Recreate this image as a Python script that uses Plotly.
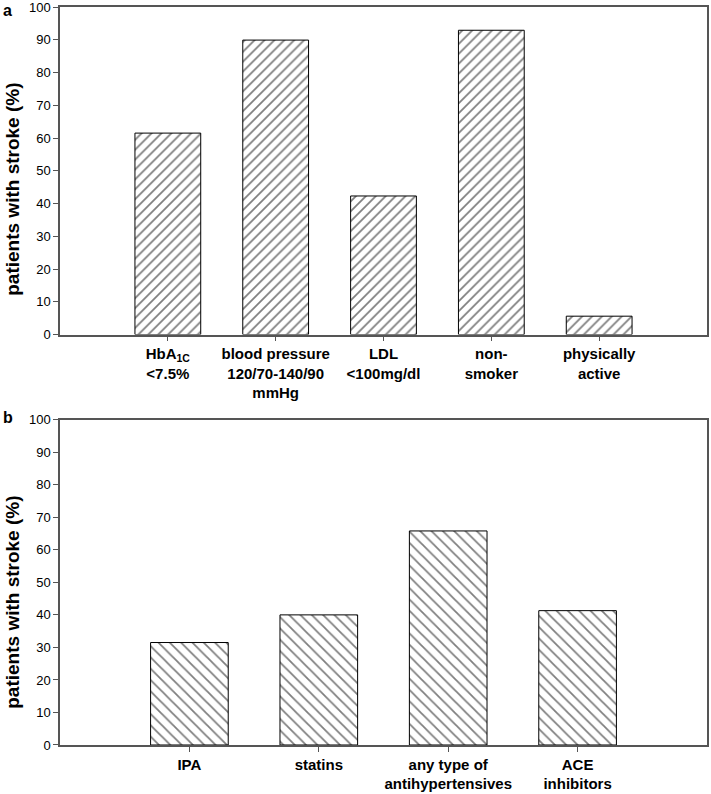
"""Two-panel hatched bar chart: patients with stroke reaching targets."""

import plotly.graph_objects as go
from plotly.subplots import make_subplots

# panel a: treatment targets reached
targets = [
    "<b>HbA<sub>1C</sub><br>&lt;7.5%</b>",
    "<b>blood pressure<br>120/70-140/90<br>mmHg</b>",
    "<b>LDL<br>&lt;100mg/dl</b>",
    "<b>non-<br>smoker</b>",
    "<b>physically<br>active</b>",
]
targets_pct = [61.5, 89.9, 42.3, 92.9, 5.6]

# panel b: medication
drugs = [
    "<b>IPA</b>",
    "<b>statins</b>",
    "<b>any type of<br>antihypertensives</b>",
    "<b>ACE<br>inhibitors</b>",
]
drugs_pct = [31.5, 40.0, 65.8, 41.3]

FONT = "Arial, Liberation Sans, sans-serif"
AXIS_COLOR = "#555555"
DOM_A = [0.5562, 1.0]
DOM_B = [0.0, 0.4408]

fig = make_subplots(rows=2, cols=1, vertical_spacing=0.115)

fig.add_trace(go.Bar(
    x=targets, y=targets_pct, width=0.61,
    marker=dict(color="white", line=dict(color="black", width=1),
                pattern=dict(shape="/", size=7, solidity=0.25,
                             fgcolor="black", bgcolor="white")),
), row=1, col=1)

fig.add_trace(go.Bar(
    x=drugs, y=drugs_pct, width=0.6,
    marker=dict(color="white", line=dict(color="black", width=1),
                pattern=dict(shape="\\", size=8, solidity=0.22,
                             fgcolor="black", bgcolor="white")),
), row=2, col=1)

fig.update_layout(
    width=711, height=794,
    template="simple_white",
    showlegend=False,
    font=dict(family=FONT, size=15, color="black"),
    margin=dict(l=60, r=4, t=7, b=49),
    plot_bgcolor="white",
    paper_bgcolor="white",
)
fig.update_layout(
    yaxis=dict(domain=DOM_A),
    yaxis2=dict(domain=DOM_B),
)

fig.update_xaxes(
    automargin=False,
    showline=True, linecolor=AXIS_COLOR, linewidth=1.5, mirror=True,
    ticks="outside", ticklen=5, tickcolor=AXIS_COLOR,
    tickfont=dict(size=15, family=FONT),
    showgrid=False,
)
fig.update_xaxes(range=[-1, 5], row=1, col=1)
fig.update_xaxes(range=[-1, 4], row=2, col=1)

fig.update_yaxes(
    automargin=False,
    ticklabeloverflow="allow",
    range=[0, 100], dtick=10,
    showline=True, linecolor=AXIS_COLOR, linewidth=1.5, mirror=True,
    ticks="outside", ticklen=5, tickcolor=AXIS_COLOR,
    tickfont=dict(size=13, family=FONT),
    showgrid=False, zeroline=False,
)

# y titles (sit a little below the panel centre) and panel letters
for title_y in [0.7524, 0.1928]:
    fig.add_annotation(text="<b>patients with stroke (%)</b>",
                       xref="paper", yref="paper", textangle=-90,
                       x=-0.0726, y=title_y,
                       xanchor="center", yanchor="middle", showarrow=False,
                       font=dict(size=19, family=FONT))
fig.add_annotation(text="<b>a</b>", xref="paper", yref="paper",
                   x=-0.081, y=1.0, yshift=7,
                   xanchor="center", yanchor="top", showarrow=False,
                   font=dict(size=16, family=FONT))
fig.add_annotation(text="<b>b</b>", xref="paper", yref="paper",
                   x=-0.081, y=0.4443,
                   xanchor="center", yanchor="middle", showarrow=False,
                   font=dict(size=16, family=FONT))

# drop the default page margin so the figure fills the window
fig.write_html("out.html", config={"displayModeBar": False},
               post_script="document.body.style.margin='0';")
